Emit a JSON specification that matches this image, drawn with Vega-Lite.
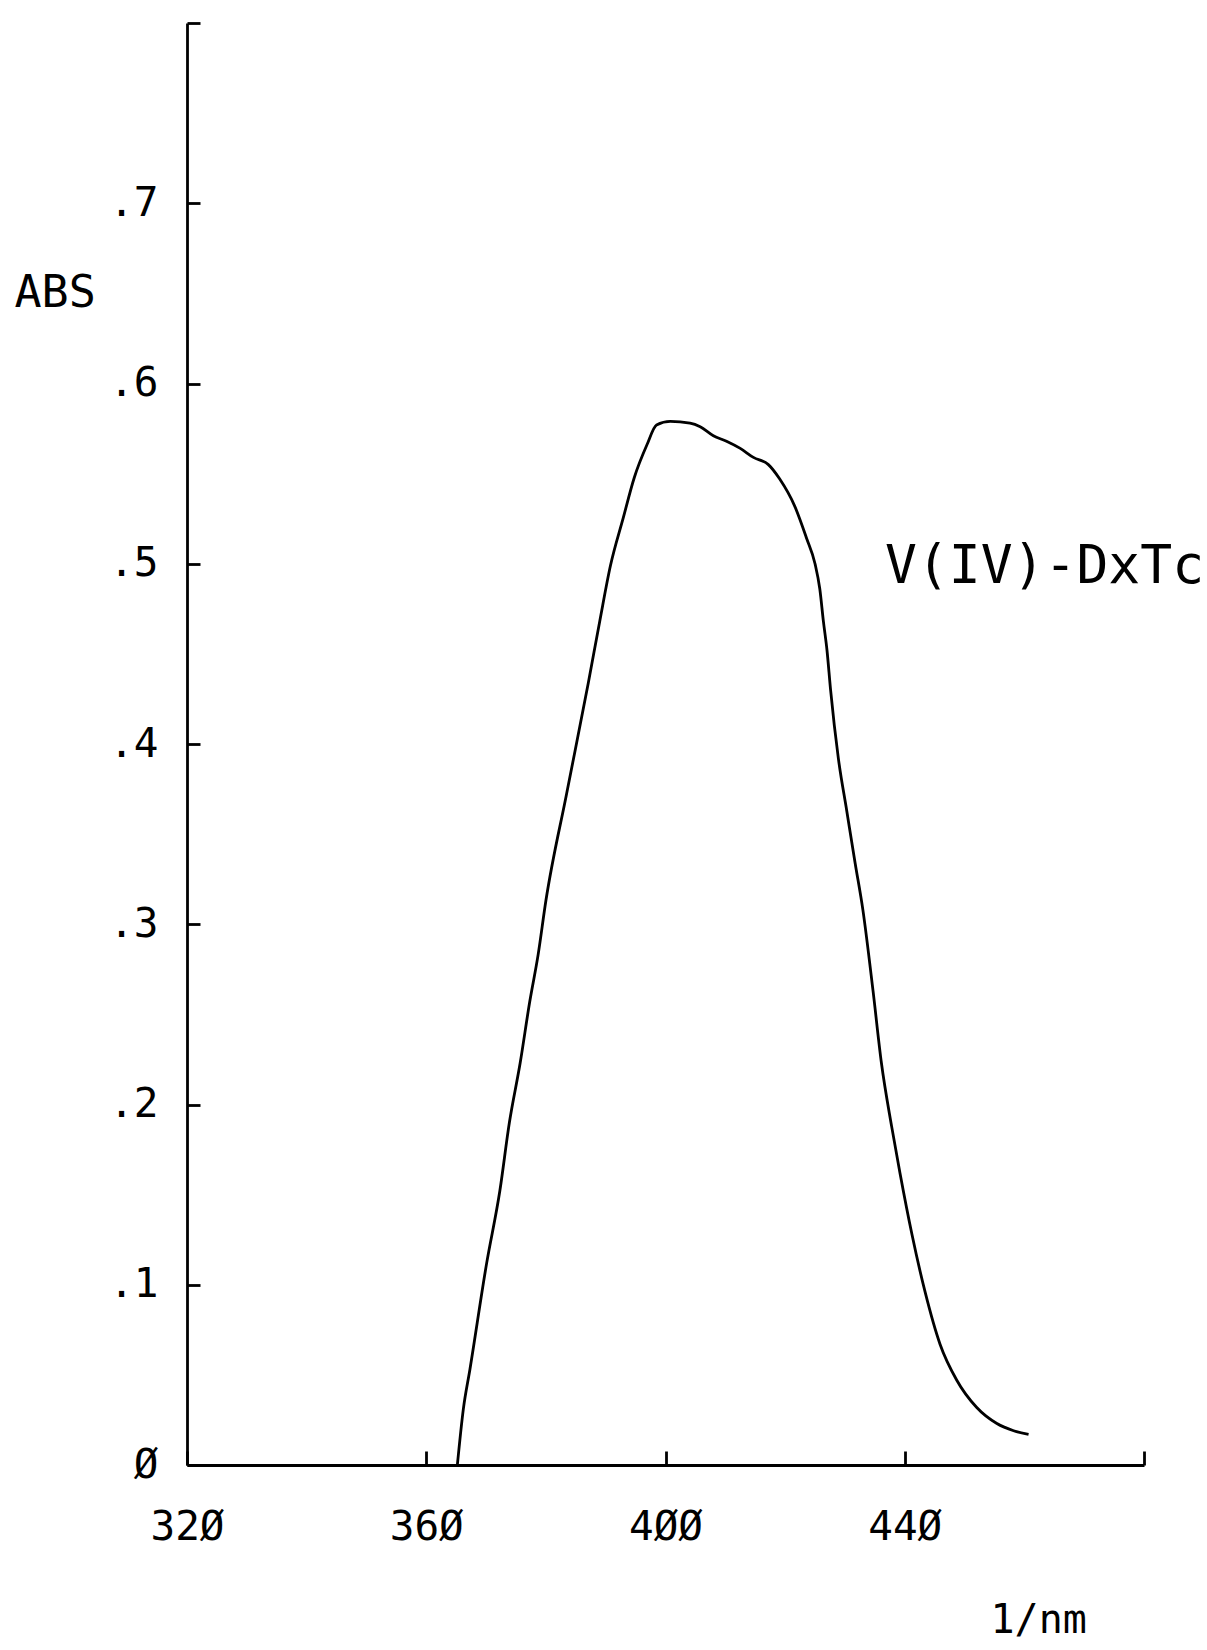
{
  "$schema": "https://vega.github.io/schema/vega-lite/v6.json",
  "autosize": "none",
  "width": 957,
  "height": 1442,
  "padding": {"left": 187, "top": 23, "right": 63, "bottom": 185},
  "background": "white",
  "config": {"view": {"stroke": null}},
  "datasets": {
    "spectrum": [
      {"nm": 365.2, "abs": 0.0},
      {"nm": 366.2, "abs": 0.031},
      {"nm": 367.3, "abs": 0.053},
      {"nm": 370.1, "abs": 0.112},
      {"nm": 372.3, "abs": 0.152},
      {"nm": 373.9, "abs": 0.19},
      {"nm": 375.7, "abs": 0.223},
      {"nm": 377.3, "abs": 0.257},
      {"nm": 378.7, "abs": 0.283},
      {"nm": 380.0, "abs": 0.313},
      {"nm": 383.5, "abs": 0.373},
      {"nm": 387.1, "abs": 0.434},
      {"nm": 389.0, "abs": 0.468},
      {"nm": 390.8, "abs": 0.499},
      {"nm": 392.9, "abs": 0.525},
      {"nm": 394.8, "abs": 0.548},
      {"nm": 396.9, "abs": 0.566},
      {"nm": 398.5, "abs": 0.577},
      {"nm": 400.8, "abs": 0.579},
      {"nm": 404.1, "abs": 0.578},
      {"nm": 405.8, "abs": 0.576},
      {"nm": 408.0, "abs": 0.571},
      {"nm": 410.2, "abs": 0.568},
      {"nm": 412.5, "abs": 0.564},
      {"nm": 414.7, "abs": 0.559},
      {"nm": 417.2, "abs": 0.555},
      {"nm": 419.1, "abs": 0.547},
      {"nm": 421.6, "abs": 0.532},
      {"nm": 423.6, "abs": 0.514},
      {"nm": 425.0, "abs": 0.5},
      {"nm": 425.8, "abs": 0.486},
      {"nm": 426.4, "abs": 0.468},
      {"nm": 427.0, "abs": 0.452},
      {"nm": 427.6, "abs": 0.43},
      {"nm": 428.9, "abs": 0.392},
      {"nm": 430.3, "abs": 0.363},
      {"nm": 431.7, "abs": 0.334},
      {"nm": 433.0, "abs": 0.308},
      {"nm": 434.7, "abs": 0.263},
      {"nm": 436.1, "abs": 0.223},
      {"nm": 437.8, "abs": 0.188},
      {"nm": 439.2, "abs": 0.162},
      {"nm": 441.2, "abs": 0.128},
      {"nm": 443.4, "abs": 0.096},
      {"nm": 445.9, "abs": 0.067},
      {"nm": 448.7, "abs": 0.047},
      {"nm": 452.0, "abs": 0.032},
      {"nm": 455.4, "abs": 0.023},
      {"nm": 458.2, "abs": 0.019},
      {"nm": 460.7, "abs": 0.017}
    ],
    "label": [
      {"nm": 436.7, "abs": 0.498, "text": "V(IV)-DxTc"}
    ]
  },
  "layer": [
    {
      "data": {"name": "spectrum"},
      "mark": {"type": "line", "color": "black", "strokeWidth": 2.8, "interpolate": "monotone"},
      "encoding": {
        "x": {
          "field": "nm",
          "type": "quantitative",
          "scale": {"domain": [320, 480], "nice": false, "zero": false},
          "axis": {
            "title": "1/nm",
            "values": [320, 360, 400, 440, 480],
            "grid": false,
            "domainColor": "black",
            "domainWidth": 2.8,
            "tickColor": "black",
            "tickWidth": 2.8,
            "tickSize": -14,
            "labelExpr": "datum.value == 320 ? '32Ø' : datum.value == 360 ? '36Ø' : datum.value == 400 ? '4ØØ' : datum.value == 440 ? '44Ø' : ''",
            "labelFont": "DejaVu Sans Mono",
            "labelFontSize": 41,
            "labelColor": "black",
            "labelPadding": 56,
            "labelFlush": false,
            "labelOverlap": false,
            "titleFont": "DejaVu Sans Mono",
            "titleFontSize": 40,
            "titleFontWeight": "normal",
            "titleColor": "black",
            "titleAlign": "left",
            "titleBaseline": "middle",
            "titleX": 803,
            "titleY": 155
          }
        },
        "y": {
          "field": "abs",
          "type": "quantitative",
          "scale": {"domain": [0, 0.8], "nice": false},
          "axis": {
            "title": "ABS",
            "values": [0, 0.1, 0.2, 0.3, 0.4, 0.5, 0.6, 0.7, 0.8],
            "grid": false,
            "domainColor": "black",
            "domainWidth": 2.8,
            "tickColor": "black",
            "tickWidth": 2.8,
            "tickSize": -13,
            "labelExpr": "datum.value == 0 ? 'Ø' : datum.value > 0.75 ? '' : '.' + round(datum.value * 10)",
            "labelFont": "DejaVu Sans Mono",
            "labelFontSize": 41,
            "labelColor": "black",
            "labelPadding": 42,
            "labelFlush": false,
            "labelOverlap": false,
            "titleFont": "DejaVu Sans Mono",
            "titleFontSize": 45,
            "titleFontWeight": "normal",
            "titleColor": "black",
            "titleAngle": 0,
            "titleAlign": "left",
            "titleBaseline": "middle",
            "titleX": -173,
            "titleY": 269
          }
        }
      }
    },
    {
      "data": {"name": "label"},
      "mark": {"type": "text", "font": "DejaVu Sans Mono", "fontSize": 53, "align": "left", "baseline": "middle", "color": "black"},
      "encoding": {
        "x": {"field": "nm", "type": "quantitative"},
        "y": {"field": "abs", "type": "quantitative"},
        "text": {"field": "text"}
      }
    }
  ]
}
